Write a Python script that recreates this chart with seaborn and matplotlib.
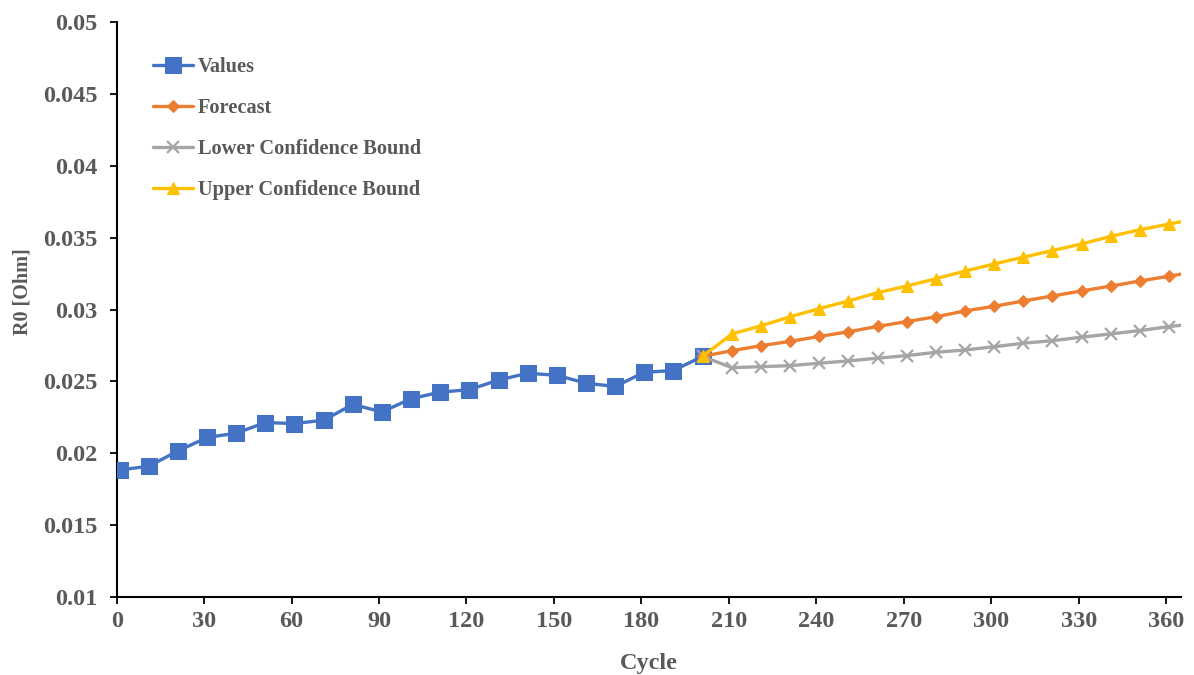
import numpy as np
import pandas as pd
import matplotlib
matplotlib.use("Agg")
import matplotlib.pyplot as plt
import seaborn as sns
from matplotlib.ticker import FuncFormatter, MultipleLocator

# ---- data ----
cycles_values = [1, 11, 21, 31, 41, 51, 61, 71, 81, 91, 101, 111, 121, 131,
                 141, 151, 161, 171, 181, 191, 201]
values = [0.01884, 0.0191, 0.02016, 0.0211, 0.0214, 0.02214, 0.02207, 0.0223,
          0.0234, 0.02288, 0.0238, 0.02426, 0.02443, 0.0251, 0.02557, 0.02543,
          0.02488, 0.02465, 0.02564, 0.02576, 0.02675]

cycles_forecast = [201, 211, 221, 231, 241, 251, 261, 271, 281, 291, 301, 311,
                   321, 331, 341, 351, 361, 371]
forecast = [0.02675, 0.02714, 0.02749, 0.02779, 0.02813, 0.02846, 0.02883,
            0.02917, 0.0295, 0.02991, 0.03023, 0.0306, 0.03095, 0.0313,
            0.03164, 0.03199, 0.03233, 0.03267]
lower_bound = [0.02675, 0.02596, 0.02603, 0.0261, 0.02627, 0.02643, 0.02662,
               0.0268, 0.02703, 0.02719, 0.02742, 0.02766, 0.02784, 0.02808,
               0.02831, 0.02854, 0.02882, 0.02905]
upper_bound = [0.02675, 0.0283, 0.02887, 0.0295, 0.03007, 0.0306, 0.03118,
               0.03164, 0.03215, 0.03268, 0.03318, 0.03365, 0.03411, 0.03457,
               0.0351, 0.03556, 0.03595, 0.03637]

series_labels = ["Values", "Forecast", "Lower Confidence Bound", "Upper Confidence Bound"]
x_label = "Cycle"
y_label = "R0 [Ohm]"

# ---- style ----
sns.set_style("ticks")
plt.rcParams["font.family"] = ["Liberation Serif", "DejaVu Serif"]
plt.rcParams["font.weight"] = "bold"
text_color = "#595959"

fig = plt.figure(figsize=(11.94, 6.75), dpi=100)
ax = fig.add_axes([0.0977, 0.1156, 0.8912, 0.8514])

sns.lineplot(x=cycles_values, y=values, ax=ax, color="#4472C4", lw=2.4,
             marker="s", markersize=11.5, markeredgecolor="#4472C4",
             label=series_labels[0], zorder=3)
sns.lineplot(x=cycles_forecast, y=forecast, ax=ax, color="#ED7D31", lw=2.4,
             marker="D", markersize=6.5, markeredgecolor="#ED7D31",
             label=series_labels[1], zorder=4)
sns.lineplot(x=cycles_forecast, y=lower_bound, ax=ax, color="#A5A5A5", lw=2.4,
             marker="x", markersize=8, markeredgewidth=1.6, markeredgecolor="#A5A5A5",
             label=series_labels[2], zorder=4)
sns.lineplot(x=cycles_forecast, y=upper_bound, ax=ax, color="#FFC000", lw=2.4,
             marker="^", markersize=9, markeredgecolor="#FFC000",
             label=series_labels[3], zorder=5)

ax.set_xlim(0, 365)
ax.set_ylim(0.01, 0.05)
ax.xaxis.set_major_locator(MultipleLocator(30))
ax.yaxis.set_major_locator(MultipleLocator(0.005))
ax.yaxis.set_major_formatter(FuncFormatter(lambda v, p: "%g" % round(v, 4)))

for side in ["top", "right"]:
    ax.spines[side].set_visible(False)
for side in ["left", "bottom"]:
    ax.spines[side].set_color("black")
    ax.spines[side].set_linewidth(1.5)

ax.tick_params(axis="y", direction="out", length=5, width=1.3, color="black",
               labelsize=17.5, labelcolor=text_color, pad=9)
ax.tick_params(axis="x", direction="out", length=5, width=1.3, color="black",
               labelsize=17.5, labelcolor=text_color, pad=5)
for lab in ax.get_xticklabels() + ax.get_yticklabels():
    lab.set_fontweight("bold")

ax.set_xlabel(x_label, fontsize=17.5, fontweight="bold", color=text_color, labelpad=15)
ax.set_ylabel(y_label, fontsize=14.5, fontweight="bold", color=text_color)
ax.yaxis.set_label_coords(-0.0787, 0.531)

leg = ax.legend(loc="upper left", bbox_to_anchor=(0.034, 0.94), frameon=False,
                borderaxespad=0, borderpad=0, handlelength=1.95, handletextpad=0.25,
                labelspacing=1.04, prop={"family": "Liberation Serif", "weight": "bold", "size": 14.7})
for t in leg.get_texts():
    t.set_color(text_color)

fig.savefig("out.png", dpi=100)
